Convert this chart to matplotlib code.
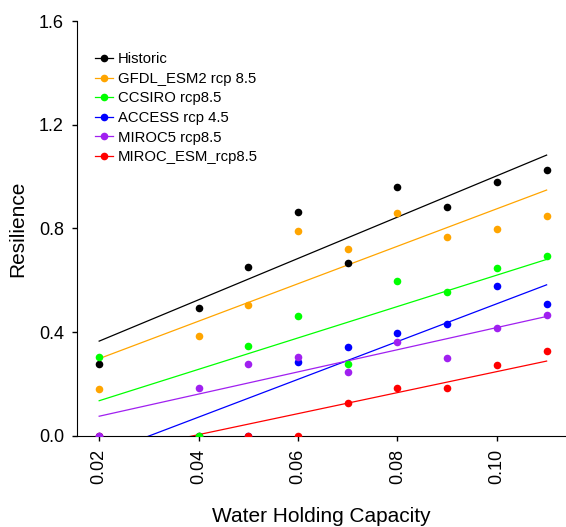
import matplotlib
matplotlib.use("Agg")
import matplotlib.pyplot as plt
import numpy as np

plt.rcParams['font.family'] = ['Liberation Sans', 'DejaVu Sans']

# water holding capacity (x) shared by every scenario
whc = [0.02, 0.04, 0.05, 0.06, 0.07, 0.08, 0.09, 0.10, 0.11]

historic = [0.276, 0.494, 0.649, 0.863, 0.666, 0.958, 0.882, 0.980, 1.025]
gfdl = [0.181, 0.384, 0.506, 0.789, 0.720, 0.861, 0.768, 0.799, 0.848]
ccsiro = [0.304, 0.0, 0.346, 0.463, 0.276, 0.597, 0.555, 0.646, 0.693]
access = [0.0, 0.0, 0.0, 0.283, 0.344, 0.398, 0.430, 0.578, 0.508]
miroc5 = [0.0, 0.184, 0.278, 0.305, 0.246, 0.363, 0.300, 0.416, 0.466]
miroc_esm = [0.0, 0.0, 0.0, 0.0, 0.125, 0.184, 0.184, 0.272, 0.326]

labels = ["Historic", "GFDL_ESM2 rcp 8.5", "CCSIRO rcp8.5",
          "ACCESS rcp 4.5", "MIROC5 rcp8.5", "MIROC_ESM_rcp8.5"]
colors = ["black", "#ffa500", "#00ff00", "#0000ff", "#a020f0", "#ff0000"]
# stacking of the dots (which one sits on top where values coincide)
dot_order = [3.5, 3.4, 3.6, 3.1, 3.7, 3.2]


def main():
    fig = plt.figure(figsize=(5.66, 5.27), dpi=100)
    ax = fig.add_axes([77.3 / 566, 91.3 / 527, 488.7 / 566, 414.7 / 527])

    x = np.array(whc)
    series = [historic, gfdl, ccsiro, access, miroc5, miroc_esm]
    handles = []
    for y, c, lab, zo in zip(series, colors, labels, dot_order):
        y = np.array(y)
        k, b = np.polyfit(x, y, 1)
        xf = np.array([x.min(), x.max()])
        ax.plot(xf, k * xf + b, color=c, lw=0.9, zorder=2)
        ax.scatter(x, y, s=30, color=c, zorder=zo, linewidths=0)
        h, = ax.plot([], [], color=c, lw=0.9, marker='o', ms=5.5, mew=0, label=lab)
        handles.append(h)

    ax.set_xlim(0.0156, 0.1139)
    ax.set_ylim(0, 1.6)
    ax.set_xticks([0.02, 0.04, 0.06, 0.08, 0.10])
    ax.set_xticklabels(["0.02", "0.04", "0.06", "0.08", "0.10"], rotation=90)
    ax.set_yticks([0.0, 0.4, 0.8, 1.2, 1.6])
    ax.set_yticklabels(["0.0", "0.4", "0.8", "1.2", "1.6"])
    ax.tick_params(direction='out', length=3.6, width=1, labelsize=13, pad=6)

    ax.spines['top'].set_visible(False)
    ax.spines['right'].set_visible(False)

    ax.set_xlabel("Water Holding Capacity", fontsize=15, labelpad=16)
    ax.set_ylabel("Resilience", fontsize=15, labelpad=8)

    ax.legend(handles=handles, loc='upper left', bbox_to_anchor=(0.036, 0.925),
              frameon=False, fontsize=10.7, handlelength=1.2, handletextpad=0.35,
              labelspacing=0.38, borderpad=0, borderaxespad=0)

    fig.savefig("out.png", dpi=100)


if __name__ == '__main__':
    main()
